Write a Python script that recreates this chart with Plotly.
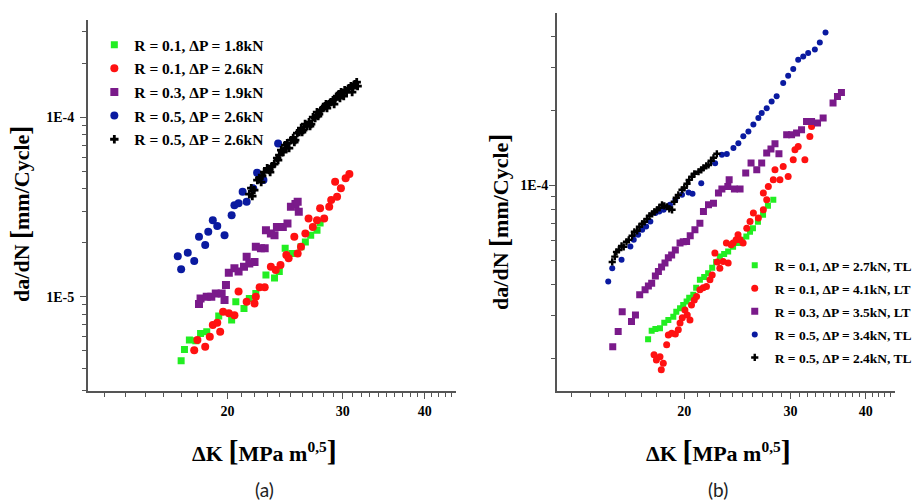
import plotly.graph_objects as go
from plotly.subplots import make_subplots

# ---- panel (a): dK [MPa m^0.5], da/dN in units of 1e-6 mm/cycle ----
a_green_dk = [17.0, 17.2, 17.5, 17.9, 18.2, 18.6, 19.4, 20.3, 20.6, 21.2, 21.6, 22.1, 22.9, 23.6, 24.0,
              24.5, 25.1, 25.9, 26.3, 26.8, 27.4, 27.7]
a_green_v = [4.39, 5.08, 5.73, 5.67, 6.24, 6.37, 7.79, 7.41, 9.37, 8.6, 9.78, 10.4, 13.2, 12.7, 13.8,
             18.6, 17.4, 19.0, 20.2, 22.0, 23.5, 25.8]

a_red_dk = [17.8, 18.0, 18.5, 18.8, 19.0, 19.3, 19.5, 19.7, 20.1, 20.5, 20.8, 21.4, 22.0, 22.1, 22.4,
            22.8, 23.3, 23.7, 24.1, 24.6, 24.8, 25.3, 25.6, 25.9, 26.3, 26.6, 27.0, 27.4, 27.7, 28.1,
            28.6, 28.8, 29.2, 29.4, 29.8, 30.3, 30.7]
a_red_v = [5.03, 5.73, 5.25, 5.97, 6.94, 7.15, 6.37, 8.24, 8.07, 7.89, 10.7, 9.37, 9.17, 10.0, 11.3,
           11.3, 14.7, 14.1, 15.0, 17.1, 16.4, 21.6, 17.4, 19.0, 22.5, 27.3, 24.5, 26.7, 31.1, 27.3,
           31.7, 34.6, 43.7, 36.1, 40.2, 45.7, 48.3]

a_purple_dk = [18.1, 18.2, 18.6, 18.9, 19.2, 19.6, 19.8, 19.9, 20.1, 20.5, 20.8, 21.2, 21.4, 21.6, 22.0,
               22.1, 22.5, 22.8, 22.9, 23.3, 23.6, 23.8, 24.3, 24.7, 25.0, 25.4, 25.6, 25.7]
a_purple_v = [9.09, 9.78, 10.0, 10.0, 10.4, 10.4, 9.57, 11.6, 13.6, 14.4, 13.8, 14.7, 16.7, 15.3, 15.6,
              19.0, 18.6, 18.6, 23.5, 22.5, 22.0, 24.5, 24.5, 25.6, 31.7, 32.9, 33.8, 29.8]

a_blue_dk = [16.8, 17.0, 17.4, 17.8, 18.1, 18.5, 18.7, 19.0, 19.3, 19.8, 20.3, 20.5, 20.8, 21.1, 21.4,
             21.9, 22.2, 22.7, 23.9]
a_blue_v = [16.8, 14.2, 17.6, 15.8, 21.6, 19.4, 23.0, 26.7, 24.8, 22.0, 28.5, 32.4, 33.2, 38.5, 33.8,
            40.2, 49.1, 44.7, 71.6]

a_black_dk = [21.6, 21.75, 21.83, 21.98, 22.22, 22.37, 22.52, 22.6, 22.76, 23.0, 23.16, 23.24, 23.4,
              23.58, 23.82, 23.9, 24.0, 24.16, 24.34, 24.5, 24.6, 24.68, 24.84, 25.02, 25.2, 25.3,
              25.38, 25.56, 25.74, 25.92, 26.0, 26.1, 26.28, 26.46, 26.64, 26.74, 26.84, 27.02, 27.22,
              27.4, 27.5, 27.6, 27.8, 28.0, 28.18, 28.28, 28.38, 28.58, 28.78, 28.98, 29.1, 29.2,
              29.4, 29.6, 29.7, 29.82, 30.0, 30.1, 30.2, 30.4, 30.66, 30.87, 31.0, 31.08, 31.3, 31.5,
              31.6]
a_black_v = [37.3, 40.3, 36.4, 39.3, 44.7, 45.9, 43.6, 47.1, 49.5, 52.0, 50.8, 49.5, 53.5,
             54.9, 59.3, 57.8, 61.6, 65.7, 64.0, 70.0, 67.4, 71.9, 67.4, 74.7, 76.7, 72.8,
             74.7, 81.7, 82.8, 87.2, 82.8, 85.0, 91.8, 89.4, 94.1, 89.4, 91.8, 100.4, 99.1,
             107.0, 101.7, 104.3, 109.8, 112.7, 115.6, 118.6, 112.7, 118.6, 121.7, 124.9, 118.6, 126.0,
             131.5, 134.9, 128.1, 138.4, 136.6, 131.5, 142.0, 138.4, 145.7, 149.5, 138.4, 145.7, 153.4, 157.3,
             149.5]

# ---- panel (b) ----
b_green_dk = [17.42, 17.66, 17.91, 18.23, 18.53, 18.82, 19.18, 19.4, 19.68, 19.92, 20.18, 20.38, 20.7,
              20.93, 21.23, 21.58, 21.91, 22.25, 22.59, 22.91, 23.29, 23.65, 24.1, 24.56, 24.94, 25.35,
              25.71, 26.0, 26.5, 27.02, 27.53, 28.1]
b_green_v = [24.0, 26.0, 26.4, 26.6, 28.0, 28.7, 29.6, 31.0, 32.0, 33.0, 34.1, 35.3, 36.3,
             38.7, 41.7, 42.8, 44.3, 46.6, 49.2, 51.7, 53.0, 54.2, 56.6, 58.6, 60.4, 62.3,
             65.1, 67.3, 71.4, 76.2, 82.8, 87.6]

b_red_dk = [17.82, 17.98, 18.23, 18.32, 18.46, 18.7, 18.82, 19.06, 19.33, 19.55, 19.68, 19.85, 20.05,
            20.23, 20.44, 20.56, 20.78, 20.96, 21.23, 21.5, 21.77, 22.06, 22.25, 22.48, 22.68, 22.91,
            23.2, 23.49, 23.65, 23.92, 24.1, 24.38, 24.56, 24.75, 25.04, 25.39, 25.71, 26.04, 26.54,
            27.05, 27.4, 27.05, 27.57, 28.1, 28.28, 28.82, 29.18, 29.74, 30.32, 30.52, 30.9, 31.7,
            32.31, 32.52]
b_red_v = [20.8, 19.8, 20.4, 18.1, 19.2, 22.8, 25.0, 25.4, 25.2, 26.2, 27.9, 29.3, 31.5,
           30.1, 28.7, 33.0, 34.6, 35.7, 38.0, 38.7, 39.2, 41.7, 43.6, 53.4, 49.2, 46.4,
           49.4, 58.6, 48.7, 57.7, 58.6, 60.4, 63.3, 60.4, 58.6, 67.3, 71.6, 77.4, 73.9,
           79.8, 87.6, 93.2, 99.1, 105.4, 115.7, 105.4, 119.3, 108.7, 127.0, 139.3, 143.6, 127.0,
           157.6, 172.9]

b_purple_dk = [15.22, 15.54, 15.78, 16.35, 16.6, 16.87, 17.22, 17.44, 17.66, 17.91, 18.12, 18.34, 18.58,
               18.82, 19.06, 19.33, 19.68, 19.92, 20.18, 20.46, 20.83, 21.23, 21.52, 21.94, 22.36,
               22.79, 23.09, 23.62, 23.74, 24.22, 24.75, 25.29, 25.81, 26.38, 26.88, 27.4, 27.85,
               28.28, 28.71, 29.57, 30.13, 30.71, 31.3, 31.9, 32.52, 33.27, 33.99, 35.3, 35.9, 36.45]
b_purple_v = [22.4, 25.8, 31.0, 28.3, 30.1, 36.3, 38.0, 39.4, 40.4, 43.2, 45.0, 47.0, 48.7,
              51.1, 52.5, 55.0, 58.6, 59.3, 59.5, 62.7, 66.3, 70.5, 78.6, 83.6, 84.9,
              93.2, 96.7, 99.1, 105.4, 96.7, 96.7, 112.2, 123.1, 115.7, 123.1, 135.1, 140.2,
              147.3, 134.2, 160.1, 160.1, 162.7, 167.7, 181.0, 181.0, 178.5, 187.0, 214.9, 228.5, 237.1]

b_blue_dk = [14.96, 15.19, 15.74, 16.28, 16.49, 16.77, 17.03, 17.29, 17.57, 17.91, 18.18, 18.48, 18.94,
             19.33, 19.83, 20.33, 20.64, 21.34, 22.5, 23.09, 23.53, 24.13, 24.59, 25.06, 25.55, 26.04,
             26.54, 26.88, 27.4, 27.92, 28.46, 29.18, 29.74, 30.32, 30.9, 31.5, 32.1, 32.93, 33.56, 34.3]
b_blue_v = [41.0, 46.4, 50.2, 56.8, 60.4, 63.3, 66.3, 68.3, 71.6, 77.4, 78.6, 79.8, 83.6,
            87.6, 91.7, 93.7, 92.6, 102.0, 123.0, 133.0, 134.0, 141.5, 148.0, 158.0, 165.0, 176.0,
            187.0, 196.0, 205.0, 218.0, 229.0, 259.0, 277.0, 295.0, 321.0, 331.0, 342.0, 353.0, 377.0, 414.0]

b_black_dk = [15.19, 15.34, 15.44, 15.58, 15.74, 15.87, 16.04, 16.18, 16.39, 16.53, 16.71, 16.85, 17.03,
              17.18, 17.35, 17.51, 17.69, 17.84, 18.03, 18.18, 18.37, 18.53, 18.73, 18.89, 19.09, 19.25,
              19.4, 19.55, 19.83, 20.0, 20.21, 20.38, 20.59, 20.78, 21.12, 21.34, 21.52, 21.75, 21.94,
              22.16, 22.36, 22.65]
b_black_v = [49.2, 51.7, 54.0, 55.0, 57.1, 56.6, 59.3, 60.4, 62.7, 65.1, 65.7, 68.2, 70.1,
             71.4, 73.4, 75.5, 76.9, 78.3, 79.8, 81.3, 83.6, 82.8, 82.1, 80.5, 79.8, 86.0,
             89.2, 91.7, 96.1, 97.9, 101.6, 105.4, 108.4, 111.5, 113.6, 115.7, 117.8, 120.0, 121.0,
             125.8, 129.3, 134.2]

labels_a = ["R = 0.1, ΔP = 1.8kN", "R = 0.1, ΔP = 2.6kN", "R = 0.3, ΔP = 1.9kN",
            "R = 0.5, ΔP = 2.6kN", "R = 0.5, ΔP = 2.6kN"]
labels_b = ["R = 0.1, ΔP = 2.7kN, TL", "R = 0.1, ΔP = 4.1kN, LT", "R = 0.3, ΔP = 3.5kN, LT",
            "R = 0.5, ΔP = 3.4kN, TL", "R = 0.5, ΔP = 2.4kN, TL"]

colors = ["#22ee22", "#ff1111", "#7a1a8a", "#0a1aa0", "#000000"]
symbols = ["square", "circle", "square", "circle", "cross"]

SERIF = "Liberation Serif"

fig = make_subplots(rows=1, cols=2)

series_a = [(a_green_dk, a_green_v), (a_red_dk, a_red_v), (a_purple_dk, a_purple_v),
            (a_blue_dk, a_blue_v), (a_black_dk, a_black_v)]
series_b = [(b_green_dk, b_green_v), (b_red_dk, b_red_v), (b_purple_dk, b_purple_v),
            (b_blue_dk, b_blue_v), (b_black_dk, b_black_v)]
sizes_a = [7, 8, 8, 8, 7]
sizes_b = [6, 7, 7, 6, 6]

for i, (dk, v) in enumerate(series_a):
    fig.add_trace(go.Scatter(x=dk, y=[u * 1e-6 for u in v], mode="markers", name=labels_a[i],
                             legendgroup="a%d" % i,
                             marker=dict(color=colors[i], symbol=symbols[i], size=sizes_a[i], line_width=0),
                             legend="legend"), row=1, col=1)
for i, (dk, v) in enumerate(series_b):
    fig.add_trace(go.Scatter(x=dk, y=[u * 1e-6 for u in v], mode="markers", name=labels_b[i],
                             legendgroup="b%d" % i,
                             marker=dict(color=colors[i], symbol=symbols[i], size=sizes_b[i], line_width=0),
                             legend="legend2"), row=1, col=2)

minor_x = [13, 14, 15, 16, 17, 18, 19, 21, 22, 23, 24, 25, 26, 27, 28, 29,
           31, 32, 33, 34, 35, 36, 37, 38, 39, 41, 42, 43, 44]
minor_y = [m * 10.0 ** e for e in (-6, -5, -4) for m in range(2, 10)]

axis_style = dict(type="log", showgrid=False, zeroline=False, showline=True, linecolor="#555",
                  linewidth=1.5, ticks="outside", ticklen=6, tickwidth=1.2, tickcolor="#555",
                  tickfont=dict(family=SERIF, size=14, color="black", weight="bold"))

fig.update_xaxes(**axis_style, tickvals=[20, 30, 40], ticktext=["20", "30", "40"], ticklabelstandoff=0,
                 minor=dict(tickvals=minor_x, ticks="outside", ticklen=4, tickcolor="#555", tickwidth=1))
fig.update_yaxes(**axis_style, tickvals=[1e-5, 1e-4], ticktext=["1E-5", "1E-4"],
                 minor=dict(tickvals=minor_y, ticks="outside", ticklen=4, tickcolor="#555", tickwidth=1))

fig.update_layout(
    xaxis=dict(domain=[0.096, 0.498], range=[1.0881, 1.6493]),
    yaxis=dict(domain=[0.2196, 0.960], range=[-5.526, -3.457], ticklabelstandoff=3),
    xaxis2=dict(domain=[0.6085, 0.978], range=[1.0896, 1.6503]),
    yaxis2=dict(domain=[0.2196, 0.974], range=[-4.828, -3.305], ticklabelstandoff=-2),
    width=917, height=501,
    margin=dict(l=0, r=0, t=0, b=0),
    plot_bgcolor="white", paper_bgcolor="white",
    legend=dict(x=0.1031, y=0.944, xanchor="left", yanchor="top", bgcolor="rgba(0,0,0,0)",
                font=dict(family=SERIF, size=15.5, color="black", weight="bold"), tracegroupgap=0.5),
    legend2=dict(x=0.803, y=0.501, xanchor="left", yanchor="top", bgcolor="rgba(0,0,0,0)",
                 font=dict(family=SERIF, size=13.5, color="black", weight="bold"), tracegroupgap=2.5),
)

xtitle = "ΔK <span style='font-size:30px'>[</span>MPa m<sup>0,5</sup><span style='font-size:30px'>]</span>"
ytitle = "da/dN <span style='font-size:27px'>[</span>mm/Cycle<span style='font-size:27px'>]</span>"

for xc, lab in [(265, "(a)"), (720, "(b)")]:
    fig.add_annotation(x=xc / 917, y=(501 - 450) / 501, xref="paper", yref="paper", text=xtitle,
                       xanchor="center", yanchor="middle", showarrow=False,
                       font=dict(family=SERIF, size=22, color="black", weight="bold"))
    fig.add_annotation(x=xc / 917, y=(501 - 489) / 501, xref="paper", yref="paper", text=lab,
                       xanchor="center", yanchor="middle", showarrow=False,
                       font=dict(family="Lato", size=19, color="#222"))

for xc, yc in [(20, 214), (500, 222)]:
    fig.add_annotation(x=xc / 917, y=(501 - yc) / 501, xref="paper", yref="paper", text=ytitle,
                       xanchor="center", yanchor="middle", textangle=-90, showarrow=False,
                       font=dict(family=SERIF, size=22, color="black", weight="bold"))

# page body has a default 8px margin; drop it so the 917x501 figure fills the window
fig.write_html("out.html", config={"displayModeBar": False},
               post_script="document.body.style.margin='0';")
